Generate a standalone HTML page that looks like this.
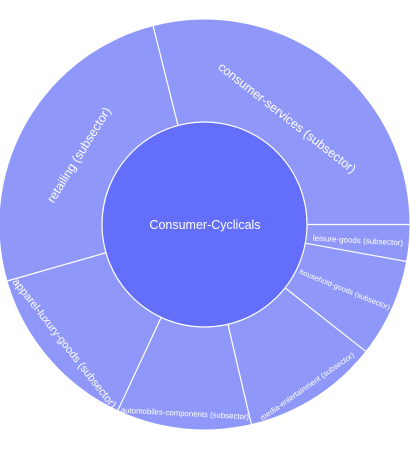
<!DOCTYPE html>
<html><head><style>
html,body{margin:0;padding:0;background:#fff;}
svg{display:block;}
text{font-family:"Liberation Sans","DejaVu Sans",sans-serif;fill:#fff;}
</style></head><body>
<svg width="410" height="450" viewBox="0 0 410 450">
<circle cx="204.5" cy="224.5" r="205" fill="#8f98f9"/>
<g stroke="#fff" stroke-width="1.2">
<line x1="178.0" y1="125.5" x2="151.4" y2="19"/>
<line x1="307" y1="224.5" x2="412" y2="224.5"/>
<line x1="305.3" y1="243.2" x2="412" y2="262.5"/>
<line x1="285.1" y1="287.9" x2="365.6" y2="351.3"/>
<line x1="227.9" y1="324.3" x2="251.3" y2="424.1"/>
<line x1="161.2" y1="317.4" x2="117.9" y2="410.3"/>
<line x1="106.0" y1="252.7" x2="7.4" y2="281.0"/>
</g>
<circle cx="204.5" cy="224.5" r="102.5" fill="#636efa" stroke="#fff" stroke-width="1.2"/>
<text x="205" y="229" font-size="12.5" text-anchor="middle">Consumer-Cyclicals</text>
<text transform="translate(287,118) rotate(38)" font-size="12.5" text-anchor="middle" dy="4">consumer-services (subsector)</text>
<text transform="translate(79,155) rotate(-58.3)" font-size="12.5" text-anchor="middle" dy="4">retailing (subsector)</text>
<text transform="translate(65,343) rotate(52)" font-size="11" text-anchor="middle" dy="4">apparel-luxury-goods (subsector)</text>
<text transform="translate(185,413) rotate(3)" font-size="7.8" text-anchor="middle" dy="3">automobiles-components (subsector)</text>
<text transform="translate(307,386) rotate(-35)" font-size="7.8" text-anchor="middle" dy="3">media-entertainment (subsector)</text>
<text transform="translate(345,289) rotate(22)" font-size="7.5" text-anchor="middle" dy="3">household-goods (subsector)</text>
<text transform="translate(358,240) rotate(3)" font-size="8" text-anchor="middle" dy="3">leisure-goods (subsector)</text>
</svg>
</body></html>
